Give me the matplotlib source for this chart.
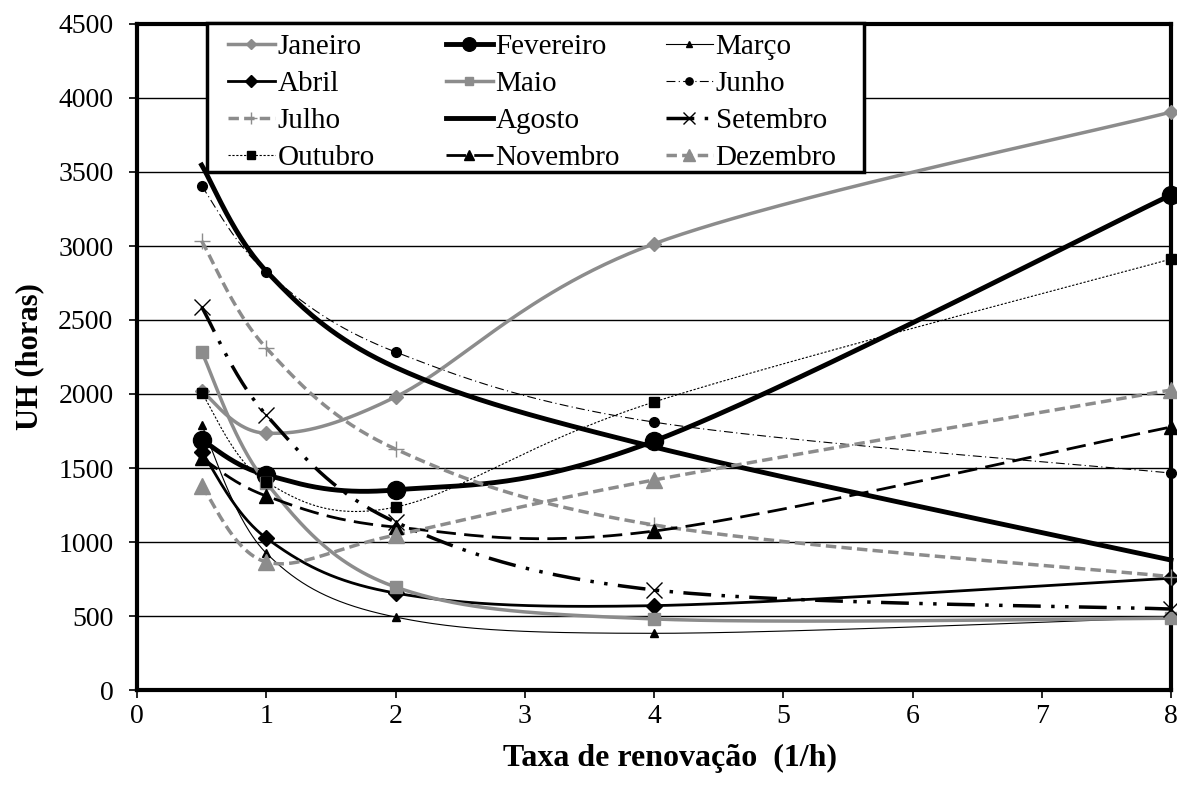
import numpy as np
import matplotlib
matplotlib.use("Agg")
import matplotlib.pyplot as plt
from matplotlib.lines import Line2D
from matplotlib.patches import Rectangle

plt.rcParams['font.family'] = ['Liberation Serif', 'DejaVu Serif']

x = [0.5, 1, 2, 4, 8]
janeiro   = [2020, 1735, 1980, 3015, 3905]
fevereiro = [1690, 1453, 1352, 1682, 3345]
marco     = [1790, 925, 493, 383, 490]
abril     = [1610, 1027, 655, 570, 755]
maio      = [2284, 1400, 696, 480, 485]
junho     = [3405, 2825, 2284, 1810, 1466]
julho     = [3034, 2311, 1628, 1115, 766]
agosto    = [3547, 2830, 2180, 1642, 878]
setembro  = [2588, 1858, 1135, 676, 547]
outubro   = [2007, 1405, 1236, 1946, 2912]
novembro  = [1568, 1311, 1101, 1074, 1777]
dezembro  = [1378, 865, 1047, 1419, 2027]

names = ['Janeiro', 'Fevereiro', 'Março', 'Abril', 'Maio', 'Junho',
         'Julho', 'Agosto', 'Setembro', 'Outubro', 'Novembro', 'Dezembro']
series = [janeiro, fevereiro, marco, abril, maio, junho,
          julho, agosto, setembro, outubro, novembro, dezembro]

xticks = [0, 1, 2, 3, 4, 5, 6, 7, 8]
yticks = [0, 500, 1000, 1500, 2000, 2500, 3000, 3500, 4000, 4500]

G = '#8c8c8c'
K = 'black'
styles = [
    dict(color=G, lw=2.5, ls='-', marker='D', ms=7, mfc=G, mec=G),
    dict(color=K, lw=3.5, ls='-', marker='o', ms=13, mfc=K, mec=K),
    dict(color=K, lw=0.8, ls='-', marker='^', ms=6, mfc=K, mec=K),
    dict(color=K, lw=2.0, ls='-', marker='D', ms=8, mfc=K, mec=K),
    dict(color=G, lw=2.5, ls='-', marker='s', ms=8, mfc=G, mec=G),
    dict(color=K, lw=0.8, ls=(0, (8, 3, 1, 3)), marker='o', ms=7, mfc=K, mec=K),
    dict(color=G, lw=2.5, ls=(0, (3, 1.5)), marker='+', ms=12, mfc=G, mec=G, mew=1),
    dict(color=K, lw=3.5, ls='-', marker='None'),
    dict(color=K, lw=2.5, ls=(0, (8, 3, 1, 3, 1, 3)), marker='x', ms=12, mfc=K, mec=K, mew=1),
    dict(color=K, lw=0.8, ls=(0, (2, 1.5)), marker='s', ms=7, mfc=K, mec=K),
    dict(color=K, lw=2.0, ls=(0, (7, 3)), marker='^', ms=10, mfc=K, mec=K),
    dict(color=G, lw=2.5, ls=(0, (3, 1.5)), marker='^', ms=11, mfc=G, mec=G),
]


def smooth(xs, ys, n=60):
    xs = np.asarray(xs, float)
    ys = np.asarray(ys, float)
    P = np.column_stack([xs, ys])
    m = len(P)
    out = []
    for i in range(m - 1):
        p0 = P[i - 1] if i > 0 else P[i]
        p1 = P[i]
        p2 = P[i + 1]
        p3 = P[i + 2] if i + 2 < m else P[i + 1]
        c1 = p1 + (p2 - p0) / 6.0
        c2 = p2 - (p3 - p1) / 6.0
        t = np.linspace(0, 1, n)[:, None]
        seg = ((1 - t) ** 3) * p1 + 3 * ((1 - t) ** 2) * t * c1 + 3 * (1 - t) * t ** 2 * c2 + t ** 3 * p2
        out.append(seg if i == 0 else seg[1:])
    S = np.vstack(out)
    return S[:, 0], S[:, 1]


W, H = 1177, 785
fig = plt.figure(figsize=(W / 100, H / 100), dpi=100)
ax = fig.add_axes([137 / W, 1 - 690 / H, (1171 - 137) / W, (690 - 24) / H])

handles = []
for name, ys, st in zip(names, series, styles):
    sx, sy = smooth(x, ys)
    ax.plot(sx, sy, color=st['color'], lw=st['lw'], ls=st['ls'], zorder=3, clip_on=False)
    if st['marker'] != 'None':
        ax.plot(x, ys, ls='None', marker=st['marker'], ms=st['ms'], mfc=st['mfc'],
                mec=st['mec'], mew=st.get('mew', 1), zorder=4, clip_on=False)
    handles.append(Line2D([], [], color=st['color'], lw=st['lw'], ls=st['ls'],
                          marker=st['marker'], ms=st.get('ms', 0) * 0.75,
                          mfc=st.get('mfc', K), mec=st.get('mec', K), mew=st.get('mew', 1)))

ax.set_xlim(0, 8)
ax.set_ylim(0, 4500)
ax.set_xticks(xticks)
ax.set_yticks(yticks)
ax.tick_params(axis='both', labelsize=20, direction='out', length=6, width=1.2, color=K)
ax.tick_params(axis='y', pad=11)
ax.tick_params(axis='x', pad=4)
ax.grid(axis='y', color=K, lw=1)
ax.set_axisbelow(True)
for s in ax.spines.values():
    s.set_linewidth(3)
    s.set_color(K)

ax.set_xlabel('Taxa de renovação  (1/h)', fontsize=23, fontweight='bold', labelpad=11)
ax.xaxis.label.set_x(0.5 + 16 / 1034)
ax.set_ylabel('UH (horas)', fontsize=22, fontweight='bold', labelpad=10)

# legend frame (Excel style, equal column widths)
frame = Rectangle((207 / W, 1 - 172 / H), (864 - 207) / W, (172 - 23) / H,
                  transform=fig.transFigure, facecolor='white', edgecolor=K,
                  lw=2.5, zorder=8)
fig.add_artist(frame)

col_x = [228, 446, 666]
for c in range(3):
    idx = [c, c + 3, c + 6, c + 9]
    lg = fig.legend([handles[i] for i in idx], [names[i] for i in idx],
                    loc='upper left', bbox_to_anchor=(col_x[c] / W, 1 - 34 / H),
                    prop={'family': ['Liberation Serif'], 'size': 21},
                    frameon=False, handlelength=1.6,
                    handletextpad=0.1, labelspacing=0.36, borderpad=0,
                    borderaxespad=0)
    lg.set_zorder(10)

fig.savefig('out.png', dpi=100)
